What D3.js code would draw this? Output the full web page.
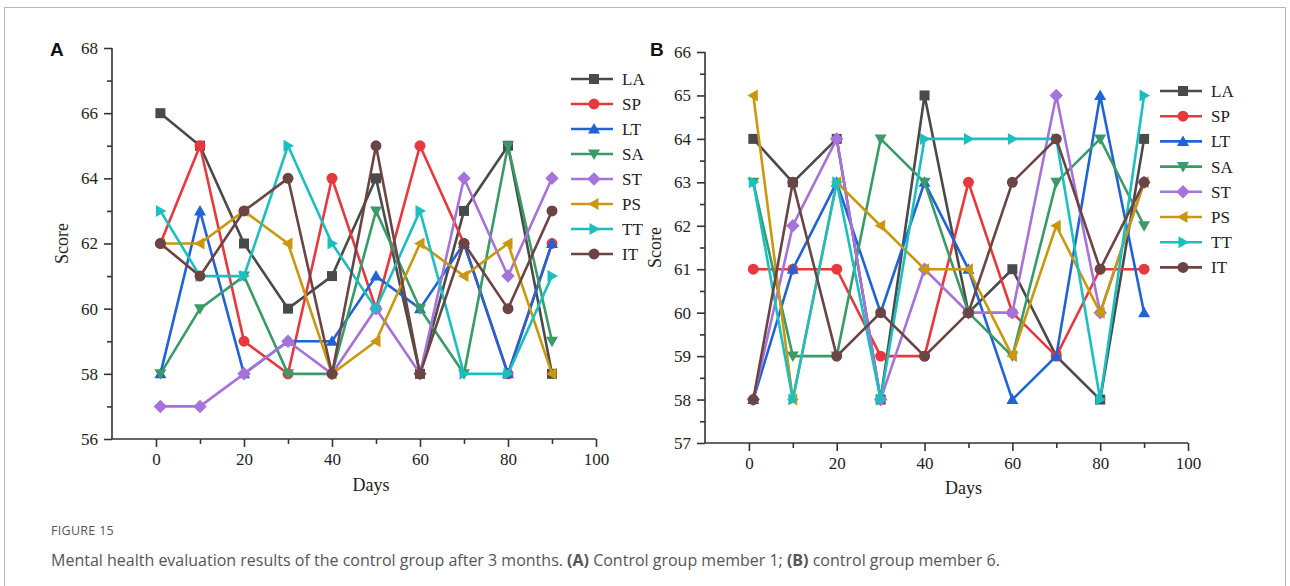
<!DOCTYPE html>
<html><head><meta charset="utf-8">
<script src="https://cdn.jsdelivr.net/npm/d3@7"></script>
<style>
body{margin:0;background:#fff;}
svg{display:block;}
</style></head>
<body>
<svg id="chart" width="1290" height="586"></svg>
<script>
const seriesNames = ["LA","SP","LT","SA","ST","PS","TT","IT"];
const days = [1,10,20,30,40,50,60,70,80,90];
const xTicks = [0,20,40,60,80,100];
const yTicksA = [56,58,60,62,64,66,68];
const yTicksB = [57,58,59,60,61,62,63,64,65,66];
const colors = ["#4a4a4a","#e8383d","#1f63d6","#3a9a68","#a772da","#c9980f","#1cbfc0","#6b4444"];
const shapes = ["square","circle","triUp","triDown","diamond","triLeft","triRight","circle"];

// Panel A — control group member 1
const A_LA = [66,65,62,60,61,64,58,63,65,58];
const A_SP = [62,65,59,58,64,60,65,62,58,62];
const A_LT = [58,63,58,59,59,61,60,62,58,62];
const A_SA = [58,60,61,58,58,63,60,58,65,59];
const A_ST = [57,57,58,59,58,60,58,64,61,64];
const A_PS = [62,62,63,62,58,59,62,61,62,58];
const A_TT = [63,61,61,65,62,60,63,58,58,61];
const A_IT = [62,61,63,64,58,65,58,62,60,63];

// Panel B — control group member 6
const B_LA = [64,63,64,58,65,60,61,59,58,64];
const B_SP = [61,61,61,59,59,63,60,59,61,61];
const B_LT = [58,61,63,60,63,61,58,59,65,60];
const B_SA = [63,59,59,64,63,60,59,63,64,62];
const B_ST = [58,62,64,58,61,60,60,65,60,63];
const B_PS = [65,58,63,62,61,61,59,62,60,63];
const B_TT = [63,58,63,58,64,64,64,64,58,65];
const B_IT = [58,63,59,60,59,60,63,64,61,63];

const svg = d3.select("#chart");
const serif = "'Liberation Serif','Times New Roman',serif";

// outer frame
svg.append("rect").attr("x",4.5).attr("y",7.5).attr("width",1281).attr("height",620)
  .attr("fill","none").attr("stroke","#b8b8b8").attr("stroke-width",1);

function symbolPath(shape, s){
  switch(shape){
    case "square": return `M${-s},${-s}H${s}V${s}H${-s}Z`;
    case "circle": return d3.symbol(d3.symbolCircle, Math.PI*s*s*1.2)();
    case "triUp": { const h=s*1.2; return `M0,${-h}L${h},${h*0.75}L${-h},${h*0.75}Z`; }
    case "triDown": { const h=s*1.2; return `M0,${h}L${h},${-h*0.75}L${-h},${-h*0.75}Z`; }
    case "triLeft": { const h=s*1.2; return `M${-h},0L${h*0.75},${-h}L${h*0.75},${h}Z`; }
    case "triRight": { const h=s*1.2; return `M${h},0L${-h*0.75},${-h}L${-h*0.75},${h}Z`; }
    case "diamond": { const h=s*1.35; return `M0,${-h}L${h},0L0,${h}L${-h},0Z`; }
  }
}

function panel(cfg){
  const g = svg.append("g");
  const x = d3.scaleLinear().domain([-10,100]).range(cfg.xr);
  const y = d3.scaleLinear().domain(cfg.yd).range(cfg.yr);
  const axisColor = "#333";
  // y axis
  const ya = d3.axisLeft(y).tickValues(cfg.yTicks).tickSize(8).tickPadding(6).tickFormat(d3.format("d"));
  const yg = g.append("g").attr("transform",`translate(${cfg.xr[0]},0)`).call(ya);
  const yMinor = d3.axisLeft(y).tickValues(cfg.yMinor).tickSize(5).tickFormat("");
  const ymg = g.append("g").attr("transform",`translate(${cfg.xr[0]},0)`).call(yMinor);
  ymg.select(".domain").remove();
  // x axis
  const xa = d3.axisBottom(x).tickValues(xTicks).tickSize(8).tickPadding(6).tickFormat(d3.format("d"));
  const xg = g.append("g").attr("transform",`translate(0,${cfg.yr[0]})`).call(xa);
  const xMinor = d3.axisBottom(x).tickValues([10,30,50,70,90]).tickSize(5).tickFormat("");
  const xmg = g.append("g").attr("transform",`translate(0,${cfg.yr[0]})`).call(xMinor);
  xmg.select(".domain").remove();
  [yg,ymg,xg,xmg].forEach(a=>{
    a.selectAll("path,line").attr("stroke",axisColor).attr("stroke-width",1.6);
    a.selectAll("text").attr("font-family",serif).attr("font-size",17).attr("fill","#222");
  });
  yg.select(".domain").attr("d",`M-0,${cfg.yr[0]}V${cfg.yr[1]}`);
  xg.select(".domain").attr("d",`M${cfg.xr[0]},0H${cfg.xr[1]}`);

  // axis titles
  g.append("text").attr("transform",`translate(${cfg.yLabelX},${(cfg.yr[0]+cfg.yr[1])/2}) rotate(-90)`)
    .attr("text-anchor","middle").attr("font-family",serif).attr("font-size",18).attr("fill","#222").text("Score");
  g.append("text").attr("x",(x(-10)+x(100))/2 + 17).attr("y",cfg.xLabelY)
    .attr("text-anchor","middle").attr("font-family",serif).attr("font-size",18).attr("fill","#222").text("Days");
  // panel letter
  g.append("text").attr("x",cfg.letterX).attr("y",56).attr("font-family","'Liberation Sans',Arial,sans-serif")
    .attr("font-weight","bold").attr("font-size",19).attr("fill","#111").text(cfg.letter);

  const line = d3.line().x((d,i)=>x(days[i])).y(d=>y(d));
  cfg.data.forEach((vals,k)=>{
    const sg = g.append("g");
    sg.append("path").attr("d",line(vals)).attr("fill","none").attr("stroke",colors[k])
      .attr("stroke-width",2.6).attr("stroke-linejoin","miter");
    sg.selectAll("path.m").data(vals).join("path").attr("class","m")
      .attr("transform",(d,i)=>`translate(${x(days[i])},${y(d)})`)
      .attr("d",symbolPath(shapes[k],5)).attr("fill",colors[k]);
  });

  // legend
  const lg = g.append("g");
  seriesNames.forEach((n,k)=>{
    const ly = cfg.legY + k*cfg.legStep;
    lg.append("line").attr("x1",cfg.legX).attr("x2",cfg.legX+42).attr("y1",ly).attr("y2",ly)
      .attr("stroke",colors[k]).attr("stroke-width",2.6);
    lg.append("path").attr("transform",`translate(${cfg.legX+23},${ly})`)
      .attr("d",symbolPath(shapes[k],5)).attr("fill",colors[k]);
    lg.append("text").attr("x",cfg.legX+51).attr("y",ly+6).attr("font-family",serif)
      .attr("font-size",17).attr("fill","#222").text(n);
  });
}

panel({
  letter:"A", letterX:50,
  xr:[112,596], yd:[56,68], yr:[439,48],
  yTicks:yTicksA, yMinor:[57,59,61,63,65,67],
  yLabelX:68, xLabelY:491,
  legX:571, legY:79, legStep:25,
  data:[A_LA,A_SP,A_LT,A_SA,A_ST,A_PS,A_TT,A_IT]
});
panel({
  letter:"B", letterX:650,
  xr:[705,1188], yd:[57,66], yr:[443,52],
  yTicks:yTicksB, yMinor:[57.5,58.5,59.5,60.5,61.5,62.5,63.5,64.5,65.5],
  yLabelX:661, xLabelY:494,
  legX:1160, legY:91, legStep:25.2,
  data:[B_LA,B_SP,B_LT,B_SA,B_ST,B_PS,B_TT,B_IT]
});

// caption
svg.append("text").attr("x",51).attr("y",535).attr("font-family","'Open Sans','Noto Sans',sans-serif")
  .attr("font-size",12.5).attr("fill","#555").attr("letter-spacing",0.3).text("FIGURE 15");
const cap = svg.append("text").attr("x",51).attr("y",566).attr("font-family","'Open Sans','Noto Sans',sans-serif")
  .attr("font-size",16).attr("fill","#555");
cap.append("tspan").text("Mental health evaluation results of the control group after 3 months. ");
cap.append("tspan").attr("font-weight","bold").text("(A)");
cap.append("tspan").text(" Control group member 1; ");
cap.append("tspan").attr("font-weight","bold").text("(B)");
cap.append("tspan").text(" control group member 6.");
</script>
</body></html>
